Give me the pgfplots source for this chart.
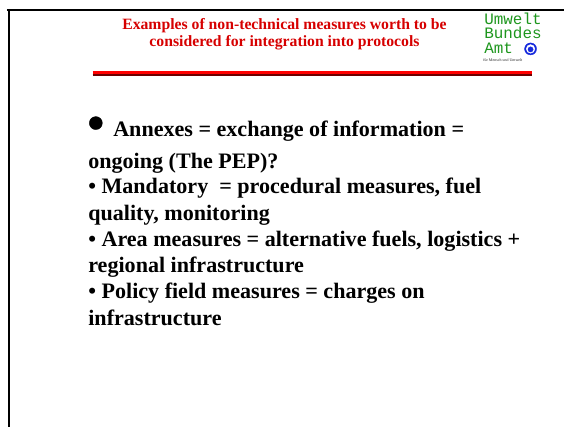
\documentclass[border=0pt]{standalone}
\usepackage{pgfplots}
\pgfplotsset{compat=1.18}
\usepackage{fontspec}
\setmainfont{Liberation Serif}
\newfontfamily\monofont{Liberation Mono}
\definecolor{titlered}{RGB}{214,0,0}
\definecolor{logogreen}{RGB}{30,150,30}
\definecolor{logoblue}{RGB}{20,40,220}
\definecolor{darkred}{RGB}{110,0,0}
\begin{document}
\begin{tikzpicture}
\begin{axis}[
  scale only axis, width=565bp, height=428bp,
  xmin=0, xmax=565, ymin=0, ymax=428, y dir=reverse,
  axis lines=none, clip=false,
]
\path (axis cs:0,0) rectangle (axis cs:565,428);
% frame lines
\addplot[black, line width=2bp] coordinates {(7,10) (565,10)};
\addplot[black, line width=2bp] coordinates {(9,9) (9,428)};
% red bar
\addplot[red, line width=3bp] coordinates {(92.7,72.5) (532.7,72.5)};
\addplot[darkred, line width=2bp] coordinates {(92.7,74.8) (532.7,74.8)};
% title
\node[anchor=base, text=titlered, font=\fontsize{15.8}{18}\selectfont\bfseries] at (axis cs:285,30) {Examples of non-technical measures worth to be};
\node[anchor=base, text=titlered, font=\fontsize{15.8}{18}\selectfont\bfseries] at (axis cs:285,46.7) {considered for integration into protocols};
% logo
\node[anchor=base west, align=left, text=logogreen, font=\monofont\fontsize{16}{14.5}\selectfont, inner sep=0pt] at (axis cs:485,53.5) {Umwelt\\Bundes\\Amt};
\addplot[only marks, mark=*, mark size=6bp, mark options={draw=logoblue, fill=logoblue}] coordinates {(531.5,49)};
\addplot[only marks, mark=*, mark size=4.3bp, mark options={draw=white, fill=white}] coordinates {(531.5,49)};
\addplot[only marks, mark=*, mark size=2.6bp, mark options={draw=logoblue, fill=logoblue}] coordinates {(531.5,49.5)};
\addplot[logoblue, line width=1.2bp] coordinates {(531.5,48) (531.5,53.5)};
\node[anchor=base west, text=black!85, font=\fontsize{4}{4}\selectfont, inner sep=0pt] at (axis cs:484,62) {für Mensch und Umwelt};
% body
\addplot[only marks, mark=*, mark size=6.5bp, mark options={draw=black, fill=black}] coordinates {(96,123.3)};
\node[anchor=base west, inner sep=0pt, font=\fontsize{22.2}{26}\selectfont\bfseries] at (axis cs:113.3,136.7) {Annexes = exchange of information =};
\node[anchor=base west, inner sep=0pt, font=\fontsize{22.2}{26}\selectfont\bfseries] at (axis cs:88.3,168.3) {ongoing (The PEP)?};
\node[anchor=base west, inner sep=0pt, font=\fontsize{22.2}{26}\selectfont\bfseries] at (axis cs:88.3,194.3) {• Mandatory\ \ = procedural measures, fuel};
\node[anchor=base west, inner sep=0pt, font=\fontsize{22.2}{26}\selectfont\bfseries] at (axis cs:88.3,220.5) {quality, monitoring};
\node[anchor=base west, inner sep=0pt, font=\fontsize{22.2}{26}\selectfont\bfseries] at (axis cs:88.3,246.7) {• Area measures = alternative fuels, logistics +};
\node[anchor=base west, inner sep=0pt, font=\fontsize{22.2}{26}\selectfont\bfseries] at (axis cs:88.3,273.2) {regional infrastructure};
\node[anchor=base west, inner sep=0pt, font=\fontsize{22.2}{26}\selectfont\bfseries] at (axis cs:88.3,299.5) {• Policy field measures = charges on};
\node[anchor=base west, inner sep=0pt, font=\fontsize{22.2}{26}\selectfont\bfseries] at (axis cs:88.3,325.8) {infrastructure};
\end{axis}
\end{tikzpicture}
\end{document}
